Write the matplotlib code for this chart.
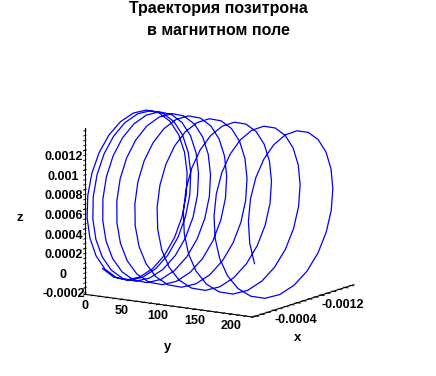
import numpy as np
import matplotlib
matplotlib.use('Agg')
import matplotlib.pyplot as plt

plt.rcParams['font.family'] = ['Liberation Sans', 'DejaVu Sans']

# helix: circle in the x-z plane, drift along y
radius = 0.00085
x_center = -0.0005
z_center = 0.00058
start_angle_deg = -49.0
# y reached after each whole turn (turn 0 .. 9)
turn_y = [0.0, 2.9, 11.4, 25.7, 45.8, 71.5, 103.0, 140.0, 183.0, 231.0]
turns_total = 8.925
pts_per_turn = 24

x_ticks = [-0.0012, -0.0008, -0.0004, 0.0]
x_labels = ['-0.0012', '', '-0.0004', '']
y_ticks = [0, 50, 100, 150, 200]
z_ticks = [-0.0002, 0, 0.0002, 0.0004, 0.0006, 0.0008, 0.001, 0.0012]
z_labels = ['-0.0002', '0', '0.0002', '0.0004', '0.0006', '0.0008', '0.001', '0.0012']

turn = np.linspace(0, turns_total, int(turns_total * pts_per_turn) + 1)
ang = np.radians(start_angle_deg) - 2 * np.pi * turn
xs = x_center + radius * np.cos(ang)
zs = z_center + radius * np.sin(ang)
ys = np.interp(turn, np.arange(len(turn_y)), turn_y)

fig = plt.figure(figsize=(4.36, 3.76), dpi=100)
ax = fig.add_axes([-0.008, -0.062, 1.0, 1.0], projection='3d')
ax.set_proj_type('ortho')
ax.view_init(elev=12.0, azim=33.0)
ax.set_box_aspect((182, 196, 167), zoom=0.83)

ax.plot(xs, ys, zs, color='#0000ff', lw=0.9)

xmin, xmax = xs.min(), xs.max()
ymin, ymax = 0, ys.max()
zmin, zmax = zs.min(), zs.max()
ax.set_xlim(xmin, xmax)
ax.set_ylim(ymin, ymax)
ax.set_zlim(zmin, zmax)

ax.set_xticks(x_ticks)
ax.set_xticks(np.arange(-0.0013, 0.00035, 0.0001), minor=True)
ax.set_yticks(y_ticks)
ax.set_yticks(np.arange(0, 231, 10), minor=True)
ax.tick_params(axis='x', which='both', labelbottom=False, labeltop=False)
ax.tick_params(axis='y', which='both', labelleft=False, labelright=False)
ax.set_zticks(z_ticks)
ax.set_zticks(np.arange(-0.00025, 0.00141, 0.00005), minor=True)
ax.set_zticklabels(z_labels, fontweight='bold', fontsize=9)

# tick labels under the floor edges, centred on their ticks
for v in y_ticks:
    ax.text(xmax, v, zmin - 0.00006, str(v), ha='center', va='top',
            fontsize=9, fontweight='bold')
for v, s in zip(x_ticks, x_labels):
    if s:
        ax.text(v, ymax, zmin - 0.00012, s, ha='center', va='top',
                fontsize=9, fontweight='bold')

ax.grid(False)
for axis in (ax.xaxis, ax.yaxis, ax.zaxis):
    axis.set_pane_color((1, 1, 1, 0))
    axis.pane.set_edgecolor((1, 1, 1, 0))
    axis.line.set_color('black')
    axis.line.set_linewidth(0.8)
    axis.label.set_visible(False)
    axis.get_offset_text().set_visible(False)

fig.text(0.5, 0.997, 'Траектория позитрона\nв магнитном поле', ha='center', va='top',
         fontsize=11.5, fontweight='bold', linespacing=1.55)
fig.text(0.046, 0.42, 'z', ha='center', va='center', fontsize=9.5, fontweight='bold')
fig.text(0.385, 0.077, 'y', ha='center', va='center', fontsize=9.5, fontweight='bold')
fig.text(0.683, 0.101, 'x', ha='center', va='center', fontsize=9.5, fontweight='bold')

fig.savefig('out.png', dpi=100)
